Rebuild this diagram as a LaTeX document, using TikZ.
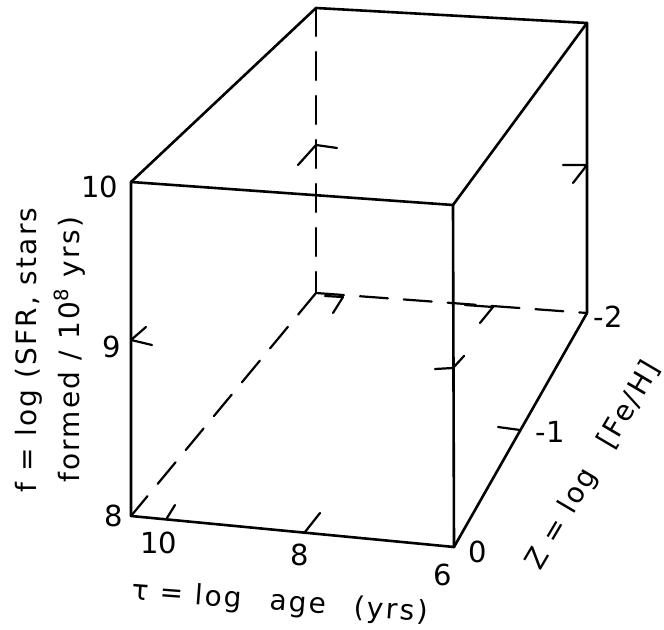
\documentclass[tikz,border=0pt]{standalone}
\usepackage{fontspec}
\setmainfont{DejaVu Sans}
\newfontfamily\spacedfont[LetterSpace=8]{DejaVu Sans}
\usepackage{tikz}
\usetikzlibrary{calc}

\begin{document}
\begin{tikzpicture}[
    x=0.5pt, y=-0.5pt, line cap=round, line join=round,
    edge/.style={line width=1.3pt},
    hidden/.style={line width=1.1pt, dash pattern=on 14pt off 8pt},
    tick/.style={line width=1.1pt},
    num/.style={font=\fontsize{14.5}{16}\selectfont, inner sep=0pt},
    axlbl/.style={font=\spacedfont\fontsize{14}{21.5}\selectfont, align=center, inner sep=0pt},
  ]
  \useasboundingbox (0,0) rectangle (664,630);
  % Ecken: vorne (F) / hinten (B), oben (T) / unten (B)
  \coordinate (FTL) at (131,182);
  \coordinate (FTR) at (453,205);
  \coordinate (FBL) at (131,516);
  \coordinate (FBR) at (454,547);
  \coordinate (BTL) at (316,8);
  \coordinate (BTR) at (587,23);
  \coordinate (BBL) at (316,293);
  \coordinate (BBR) at (587,313);
  % verdeckte Kanten
  \draw[hidden] (BTL) -- (BBL);
  \draw[hidden] (BBL) -- (FBL);
  \draw[hidden] (BBL) -- (BBR);
  % sichtbare Kanten
  \draw[edge] (FTL) -- (FTR) -- (FBR) -- (FBL) -- cycle;
  \draw[edge] (FTL) -- (BTL) -- (BTR) -- (FTR);
  \draw[edge] (BTR) -- (BBR) -- (FBR);
  % Teilstriche
  \draw[tick] (131,340) -- ++(15,-13) (131,340) -- ++(21,5);
  \draw[tick] (167,518) -- ++(8,-13);
  \draw[tick] (305,532) -- ++(15,-19);
  \draw[tick] (316,145) -- ++(-18,20) (316,145) -- ++(21,3);
  \draw[tick] (563,165) -- (587,165) -- ++(-14,18);
  \draw[tick] (453,368) -- ++(-18,1) (453,368) -- ++(11,-12);
  \draw[tick] (325,296) -- (343,297) -- ++(-10,16);
  \draw[tick] (465,305) -- (493,307) -- ++(-13,16);
  \draw[tick] (520,430) -- ++(-22,-3);
  % Zahlen
  \node[num] (f10) at (100,187) {10};
  \node[num] (f9)  at (112,347) {9};
  \node[num] (f8)  at (114,516) {8};
  \node[num] (t10) at (159,543) {10};
  \node[num] (t8)  at (300,555) {8};
  \node[num] (t6)  at (443,575) {6};
  \node[num] (z0)  at (478,552) {0};
  \node[num] (z1)  at (550,432) {-1};
  \node[num] (z2)  at (608,317) {-2};
  % Achsentitel
  \node[axlbl, rotate=90] (ylbl) at (50,350)
    {f = log (SFR, stars\\formed / 10\textsuperscript{8} yrs)};
  \node[axlbl, rotate=-4.3] (xlbl) at (280,603)
    {τ = log\quad age\quad (yrs)};
  \node[axlbl, rotate=59.5] (zlbl) at (594,466)
    {Z = log\quad [Fe/H]};
\end{tikzpicture}
\end{document}
